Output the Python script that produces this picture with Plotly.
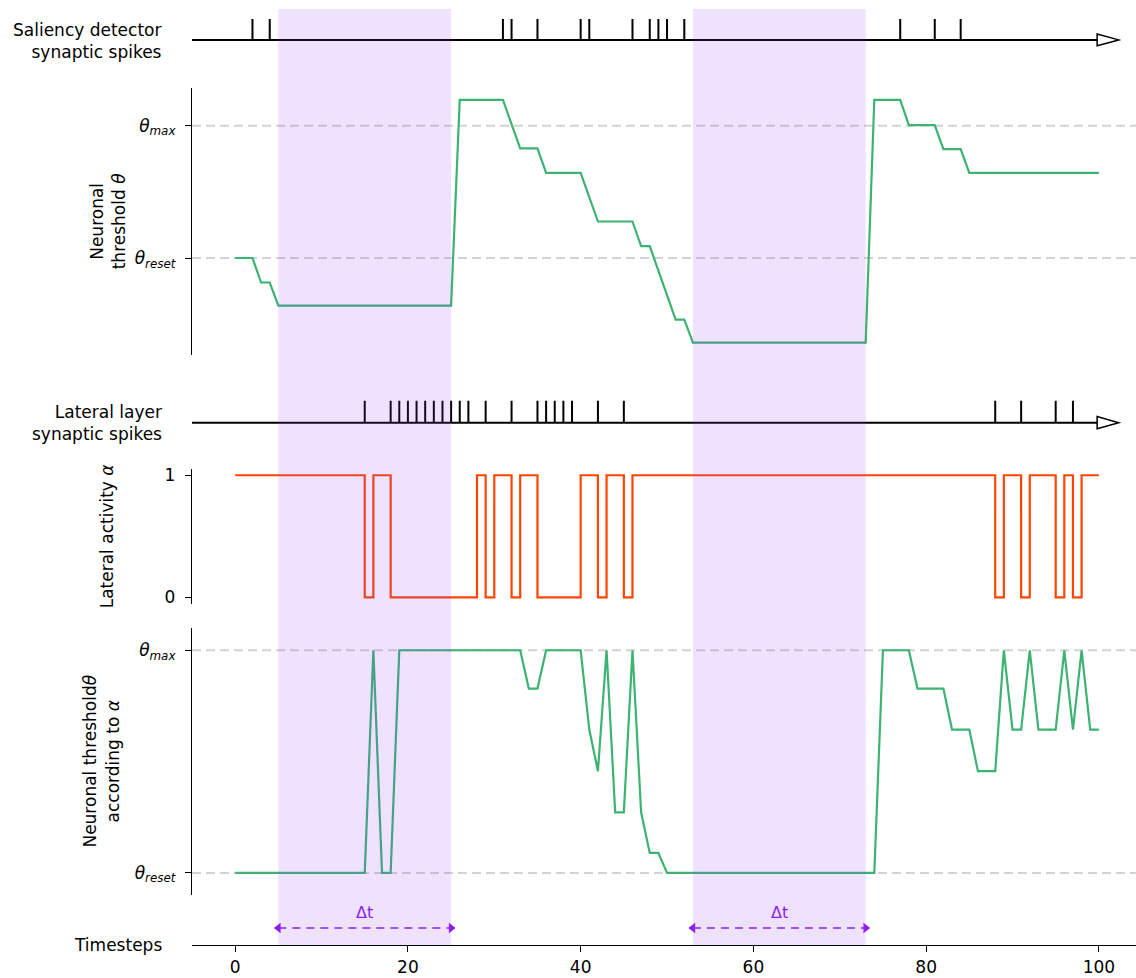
import plotly.graph_objects as go

# ---- data -------------------------------------------------------------
# windows (timesteps) marked as Δt
delta_windows = [(5, 25), (53, 73)]

# spike times of the two input populations
saliency_spikes = [2, 4, 31, 32, 35, 40, 41, 46, 48, 49, 50, 52, 77, 81, 84]
lateral_spikes = [15, 18, 19, 20, 21, 22, 23, 24, 25, 26, 27, 29, 32,
                  35, 36, 37, 38, 39, 42, 45, 88, 91, 95, 97]

# threshold levels (normalised units)
THETA_RESET = 0.0
THETA_MAX = 1.0

# neuronal threshold theta driven by saliency spikes (breakpoints)
theta_t = [0, 2, 3, 4, 5, 25, 26, 31, 33, 35, 36, 40, 42, 46, 47, 48, 51,
           52, 53, 73, 74, 77, 78, 81, 82, 84, 85, 100]
theta_v = [0.0, 0.0, -0.185, -0.185, -0.36, -0.36, 1.195, 1.195, 0.828,
           0.828, 0.643, 0.643, 0.276, 0.276, 0.09, 0.09, -0.465, -0.465,
           -0.64, -0.64, 1.195, 1.195, 1.005, 1.005, 0.823, 0.823, 0.643,
           0.643]

# lateral activity alpha (step levels, held until next change)
alpha_t = [0, 15, 16, 18, 28, 29, 30, 32, 33, 35, 40, 42, 43, 45, 46, 88,
           89, 91, 92, 95, 96, 97, 98, 100]
alpha_v = [1, 0, 1, 0, 1, 0, 1, 0, 1, 0, 1, 0, 1, 0, 1, 0, 1, 0, 1, 0, 1, 0,
           1, 1]

# neuronal threshold modulated by alpha (breakpoints)
theta_alpha_t = [0, 15, 16, 17, 18, 19, 33, 34, 35, 36, 40, 41, 42, 43, 44,
                 45, 46, 47, 48, 49, 50, 74, 75, 78, 79, 82, 83, 85, 86, 88,
                 89, 90, 91, 92, 93, 95, 96, 97, 98, 99, 100]
theta_alpha_v = [0.0, 0.0, 1.0, 0.0, 0.0, 1.0, 1.0, 0.828, 0.828, 1.0, 1.0,
                 0.644, 0.457, 1.0, 0.272, 0.272, 1.0, 0.272, 0.09, 0.09, 0.0,
                 0.0, 1.0, 1.0, 0.828, 0.828, 0.644, 0.644, 0.457, 0.457, 1.0,
                 0.644, 0.644, 1.0, 0.644, 0.644, 1.0, 0.644, 1.0, 0.644,
                 0.644]

time_ticks = [0, 20, 40, 60, 80, 100]

# ---- styling ----------------------------------------------------------
W, H = 1136, 978
M_L, M_B = 192, 33
PLOT_H = H - M_B
X_RANGE = [-5, 104.3]
FONT = "DejaVu Sans"
FS = 17
GREEN = "#3cb371"
ORANGE = "#ff4500"
VIOLET = "#8a1cf0"
SHADE = "rgba(140,60,255,0.15)"
REF_GRAY = "#d3d3d3"
SPIKE_RANGE = [-0.5, 1.05]


def py(p):
    """pixel row inside the plot area -> paper y"""
    return 1 - p / PLOT_H


def px(p):
    """pixel column -> paper x"""
    return (p - M_L) / (W - M_L)


def raster_domain(base, top):
    """domain of a raster axis whose 0 sits at row `base`, 1 at row `top`"""
    unit = base - top
    lo = base - SPIKE_RANGE[0] * unit
    hi = base - SPIKE_RANGE[1] * unit
    return [py(lo), py(hi)]


def spike_xy(times):
    xs, ys = [], []
    for t in times:
        xs += [t, t, None]
        ys += [0, 1, None]
    return xs, ys


fig = go.Figure()
common = dict(showlegend=False, hoverinfo="skip")

# saliency detector spike raster
fig.add_trace(go.Scatter(x=[X_RANGE[0], 100], y=[0, 0], yaxis="y5",
                         mode="lines", line=dict(color="black", width=2),
                         **common))
sx, sy = spike_xy(saliency_spikes)
fig.add_trace(go.Scatter(x=sx, y=sy, yaxis="y5", mode="lines",
                         line=dict(color="black", width=2), **common))

# threshold theta
fig.add_trace(go.Scatter(x=theta_t, y=theta_v, yaxis="y4", mode="lines",
                         line=dict(color=GREEN, width=2.2), **common))

# lateral layer spike raster
fig.add_trace(go.Scatter(x=[X_RANGE[0], 100], y=[0, 0], yaxis="y3",
                         mode="lines", line=dict(color="black", width=2),
                         **common))
lx, ly = spike_xy(lateral_spikes)
fig.add_trace(go.Scatter(x=lx, y=ly, yaxis="y3", mode="lines",
                         line=dict(color="black", width=2), **common))

# lateral activity alpha
fig.add_trace(go.Scatter(x=alpha_t, y=alpha_v, yaxis="y2", mode="lines",
                         line=dict(color=ORANGE, width=2.2, shape="hv"),
                         **common))

# threshold according to alpha
fig.add_trace(go.Scatter(x=theta_alpha_t, y=theta_alpha_v, yaxis="y",
                         mode="lines", line=dict(color=GREEN, width=2.2),
                         **common))

# Δt double arrows
for a, b in delta_windows:
    fig.add_trace(go.Scatter(x=[a, b], y=[0.34, 0.34], yaxis="y6",
                             mode="lines+markers",
                             line=dict(color=VIOLET, width=1.6,
                                       dash="8px,6px"),
                             marker=dict(symbol=["triangle-left",
                                                 "triangle-right"],
                                         size=9, color=VIOLET),
                             **common))

theta_ticktext = ["<i>θ</i><sub><i>reset</i></sub>",
                  "<i>θ</i><sub><i>max</i></sub>"]

axis_style = dict(showgrid=False, zeroline=False, showline=True,
                  linecolor="black", linewidth=1.3, ticks="outside",
                  ticklen=6, tickwidth=1.3, tickcolor="black",
                  ticklabelstandoff=6,
                  tickfont=dict(family=FONT, size=FS, color="black"),
                  anchor="x")
hidden = dict(visible=False, showgrid=False, zeroline=False, anchor="x")

fig.update_layout(
    width=W, height=H,
    margin=dict(l=M_L, r=0, t=0, b=M_B),
    paper_bgcolor="white", plot_bgcolor="white",
    font=dict(family=FONT, size=FS, color="black"),
    xaxis=dict(domain=[0, 1], range=X_RANGE, anchor="y6",
               showgrid=False, zeroline=False, showline=True,
               linecolor="black", linewidth=1.3, ticks="outside",
               ticklen=6, tickwidth=1.3, tickcolor="black",
               tickvals=time_ticks,
               tickfont=dict(family=FONT, size=FS, color="black")),
    yaxis=dict(domain=[py(895), py(627)], range=[-0.1, 1.1],
               tickvals=[THETA_RESET, THETA_MAX], ticktext=theta_ticktext,
               **axis_style),
    yaxis2=dict(domain=[py(603), py(467)], range=[-0.055, 1.055],
                tickvals=[0, 1], ticktext=["0", "1"], **axis_style),
    yaxis3=dict(domain=raster_domain(421, 399), range=SPIKE_RANGE, **hidden),
    yaxis4=dict(domain=[py(353), py(85)], range=[-0.732, 1.287],
                tickvals=[THETA_RESET, THETA_MAX], ticktext=theta_ticktext,
                **axis_style),
    yaxis5=dict(domain=raster_domain(37, 16), range=SPIKE_RANGE, **hidden),
    yaxis6=dict(domain=[0, py(895)], range=[0, 1], **hidden),
)

# dashed reference levels
for yref in ("y4", "y"):
    for level in (THETA_RESET, THETA_MAX):
        fig.add_shape(type="line", xref="x domain", x0=0, x1=1, yref=yref,
                      y0=level, y1=level, layer="below",
                      line=dict(color=REF_GRAY, width=2, dash="9px,5px"))

# Δt windows shaded over all panels
for a, b in delta_windows:
    fig.add_shape(type="rect", xref="x", yref="paper", x0=a, x1=b,
                  y0=0, y1=py(6), fillcolor=SHADE, line=dict(width=0),
                  layer="above")

# hollow arrowheads closing the spike time lines
for yref in ("y5", "y3"):
    fig.add_shape(type="path", xref="x", yref=yref,
                  path="M 99.8 -0.28 L 102.3 0 L 99.8 0.28 Z",
                  fillcolor="white", line=dict(color="black", width=1.5),
                  layer="above")

ann = dict(showarrow=False, font=dict(family=FONT, size=FS, color="black"))
fig.add_annotation(text="Saliency detector<br>synaptic spikes",
                   xref="paper", yref="paper", x=px(164), y=py(38),
                   xanchor="right", yanchor="middle", align="right", **ann)
fig.add_annotation(text="Lateral layer<br>synaptic spikes",
                   xref="paper", yref="paper", x=px(164), y=py(421),
                   xanchor="right", yanchor="middle", align="right", **ann)
fig.add_annotation(text="Timesteps", xref="paper", yref="paper",
                   x=px(164), y=py(945), xanchor="right", yanchor="middle",
                   **ann)
fig.add_annotation(text="Neuronal<br>threshold <i>θ</i>", textangle=-90,
                   xref="paper", yref="paper", x=px(108), y=py(219),
                   xanchor="center", yanchor="middle", **ann)
fig.add_annotation(text="Lateral activity <i>α</i>", textangle=-90,
                   xref="paper", yref="paper", x=px(107), y=py(535),
                   xanchor="center", yanchor="middle", **ann)
fig.add_annotation(text="Neuronal threshold<i>θ</i><br>according to <i>α</i>",
                   textangle=-90, xref="paper", yref="paper", x=px(101),
                   y=py(761), xanchor="center", yanchor="middle", **ann)
for a, b in delta_windows:
    fig.add_annotation(text="Δt", xref="x", yref="y6", x=(a + b) / 2,
                       y=0.66, showarrow=False,
                       font=dict(family=FONT, size=16, color=VIOLET))

fig.write_html("out.html")
